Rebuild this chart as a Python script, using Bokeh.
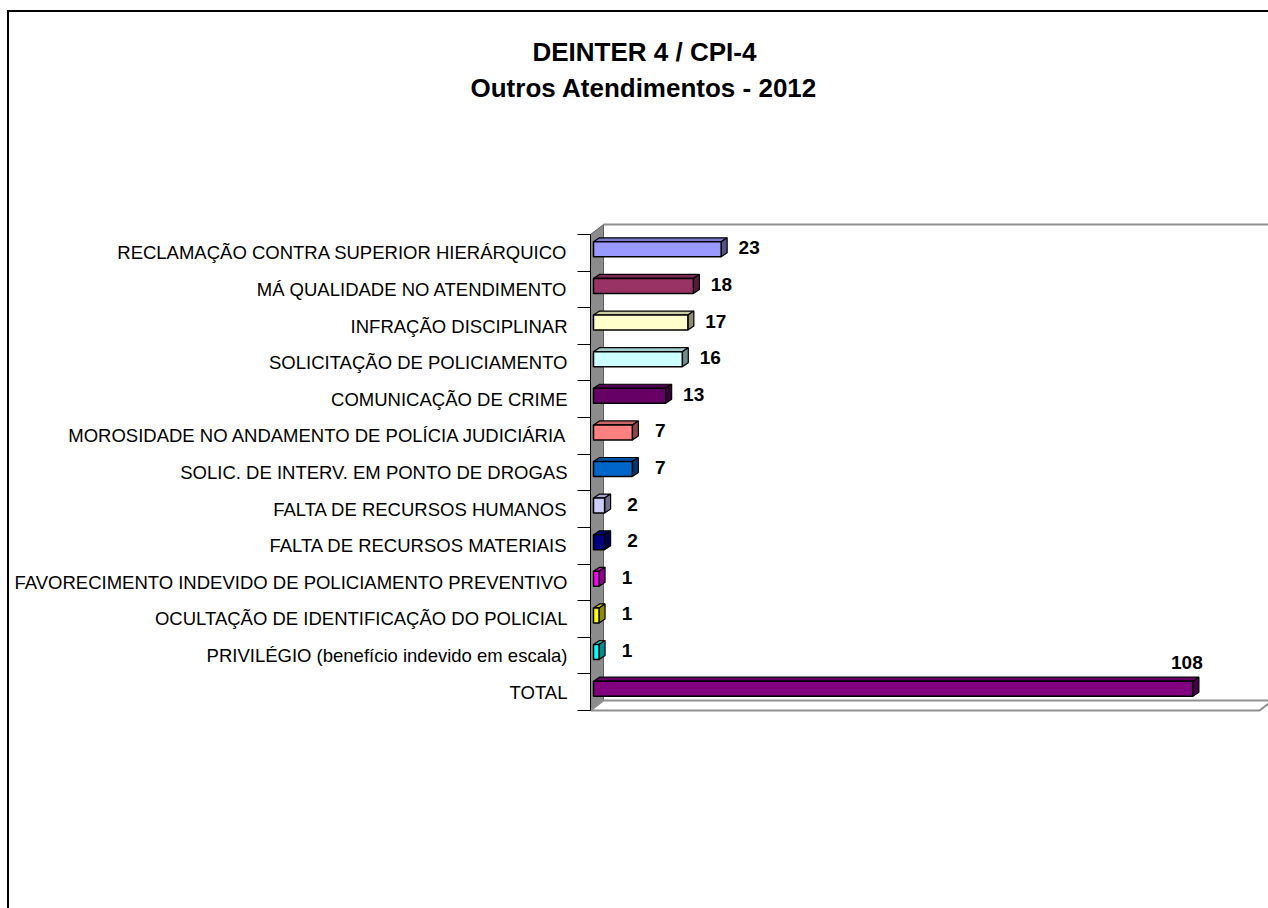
from bokeh.plotting import figure
from bokeh.layouts import column
from bokeh.models import Range1d, FixedTicker, ColumnDataSource, Title
from bokeh.embed import file_html
from bokeh.resources import INLINE
from bokeh.core.properties import value

# ---------------- data ----------------
categories = [
    "RECLAMAÇÃO CONTRA SUPERIOR HIERÁRQUICO",
    "MÁ QUALIDADE NO ATENDIMENTO",
    "INFRAÇÃO DISCIPLINAR",
    "SOLICITAÇÃO DE POLICIAMENTO",
    "COMUNICAÇÃO DE CRIME",
    "MOROSIDADE NO ANDAMENTO DE POLÍCIA JUDICIÁRIA",
    "SOLIC. DE INTERV. EM PONTO DE DROGAS",
    "FALTA DE RECURSOS HUMANOS",
    "FALTA DE RECURSOS MATERIAIS",
    "FAVORECIMENTO INDEVIDO DE POLICIAMENTO PREVENTIVO",
    "OCULTAÇÃO DE IDENTIFICAÇÃO DO POLICIAL",
    "PRIVILÉGIO (benefício indevido em escala)",
    "TOTAL",
]
values = [23, 18, 17, 16, 13, 7, 7, 2, 2, 1, 1, 1, 108]
colors = ["#9999FF", "#993366", "#FFFFCC", "#CCFFFF", "#660066", "#FF8080",
          "#0066CC", "#CCCCFF", "#000080", "#FF00FF", "#FFFF00", "#00FFFF", "#800080"]
title_lines = ["DEINTER 4 / CPI-4", "Outros Atendimentos - 2012"]
x_axis_max = 120

# ---------------- geometry / style ----------------
W = 1259               # content width (page x 9 .. 1268)
H_TITLE = 210          # title strip height (page y 12 .. 222)
H_CHART = 686          # chart height (page y 222 .. 908)
BORDER_L = 581         # space left of the plot frame
FRAME_W, FRAME_H = W - BORDER_L, 490
PX_X = 5.55            # pixels per value unit
ZERO_OFF = 3           # px between axis line and x=0
ROW_PX = 476 / 13      # pixels per category row
TOP_PAD = 12           # px of frame above first row boundary
WALL_DX, WALL_DY = 13, 10
BAR_DX, BAR_DY = 6, 4
BAR_H = 15
BAR_SHIFT = 3.5
FONT = "Liberation Sans"
TITLE_OFFSETS = [-58, -120]   # left offsets of the title lines from the frame edge
TITLE_ANCHOR = 92              # top of the (empty) frame of the title strip

n = len(categories)
rows = list(range(n))

# ---------------- title strip ----------------
t = figure(width=W, height=H_TITLE, output_backend="svg", toolbar_location=None,
           x_range=Range1d(0, 1), y_range=Range1d(0, 1),
           x_axis_location=None, y_axis_location=None,
           min_border_left=BORDER_L, min_border_right=0,
           min_border_top=TITLE_ANCHOR, min_border_bottom=0,
           background_fill_color="white", border_fill_color="white")
t.outline_line_color = None
t.grid.visible = False
for line, off in [(title_lines[1], TITLE_OFFSETS[1]), (title_lines[0], TITLE_OFFSETS[0])]:
    t.add_layout(Title(text=line, align="left", offset=off, standoff=4,
                       vertical_align="bottom", text_font=FONT,
                       text_font_style="bold", text_font_size="26px",
                       text_color="black"), "above")

# ---------------- chart ----------------
x_start = -ZERO_OFF / PX_X
x_end = x_start + FRAME_W / PX_X
y_end = -0.5 - TOP_PAD / ROW_PX
y_start = y_end + FRAME_H / ROW_PX

p = figure(width=W, height=H_CHART, output_backend="svg", toolbar_location=None,
           x_range=Range1d(x_start, x_end), y_range=Range1d(y_start, y_end),
           x_axis_location=None, min_border_left=BORDER_L, min_border_right=0,
           min_border_top=0, min_border_bottom=H_CHART - FRAME_H,
           background_fill_color="white", border_fill_color="white")
p.outline_line_color = None
p.grid.visible = False

# y axis: labels at centres, ticks at category boundaries
ya = p.yaxis[0]
ya.ticker = FixedTicker(ticks=rows, minor_ticks=[i - 0.5 for i in range(n + 1)])
ya.major_label_overrides = {i: c for i, c in enumerate(categories)}
ya.major_tick_line_color = None
ya.major_tick_out = 13
ya.major_tick_in = 0
ya.minor_tick_out = 13
ya.minor_tick_in = 0
ya.minor_tick_line_color = "black"
ya.minor_tick_line_width = 1
ya.axis_line_color = "black"
ya.axis_line_width = 1
ya.bounds = (-0.5, n - 0.5)
ya.major_label_standoff = 10
ya.major_label_text_font = FONT
ya.major_label_text_font_size = "18.5px"
ya.major_label_text_color = "black"

wdx = WALL_DX / PX_X
wdy = WALL_DY / ROW_PX
bdx = BAR_DX / PX_X
bdy = BAR_DY / ROW_PX

# side wall (grey)
p.patch([x_start, x_start + wdx, x_start + wdx, x_start],
        [n - 0.5, n - 0.5 - wdy, -0.5 - wdy, -0.5],
        fill_color="#8C8C8C", line_color="#606060", line_width=1)
# floor
p.patch([x_start, x_axis_max, x_axis_max + wdx, x_start + wdx],
        [n - 0.5, n - 0.5, n - 0.5 - wdy, n - 0.5 - wdy],
        fill_color="white", line_color="#909090", line_width=2)
# back wall top edge
p.line([x_start + wdx, x_end + 5], [-0.5 - wdy, -0.5 - wdy],
       line_color="#909090", line_width=2)


def shade(hx, f):
    hx = hx.lstrip("#")
    r, g, b = (int(hx[i:i + 2], 16) for i in (0, 2, 4))
    return "#%02x%02x%02x" % (int(r * f), int(g * f), int(b * f))


tops_x, tops_y, sides_x, sides_y = [], [], [], []
f_top, f_bot = [], []
for i, v in enumerate(values):
    c = i - BAR_SHIFT / ROW_PX
    ft = c - (BAR_H / ROW_PX) / 2
    fb = c + (BAR_H / ROW_PX) / 2
    f_top.append(ft)
    f_bot.append(fb)
    tops_x.append([0, v, v + bdx, bdx])
    tops_y.append([ft, ft, ft - bdy, ft - bdy])
    sides_x.append([v, v + bdx, v + bdx, v])
    sides_y.append([ft, ft - bdy, fb - bdy, fb])

p.patches(tops_x, tops_y, fill_color=[shade(c, 0.8) for c in colors],
          line_color="black", line_width=1.2)
p.patches(sides_x, sides_y, fill_color=[shade(c, 0.55) for c in colors],
          line_color="black", line_width=1.2)
p.quad(left=[0] * n, right=values, top=f_top, bottom=f_bot,
       fill_color=colors, line_color="black", line_width=1.5)

# value labels
reg = ColumnDataSource(dict(x=values[:-1], y=rows[:-1], t=[str(v) for v in values[:-1]]))
p.text(x="x", y="y", text="t", source=reg, x_offset=28, y_offset=-5,
       text_align="center", text_baseline="middle", text_font=value(FONT),
       text_font_style="bold", text_font_size="19px", text_color="black")
tot = ColumnDataSource(dict(x=values[-1:], y=rows[-1:], t=[str(values[-1])]))
p.text(x="x", y="y", text="t", source=tot, x_offset=-6, y_offset=-30,
       text_align="center", text_baseline="middle", text_font=value(FONT),
       text_font_style="bold", text_font_size="19px", text_color="black")

layout = column(t, p, spacing=0,
                styles={"margin-left": "7px", "margin-top": "10px",
                        "border-left": "2px solid black",
                        "border-top": "2px solid black"})

open("out.html", "w").write(file_html(layout, INLINE))
